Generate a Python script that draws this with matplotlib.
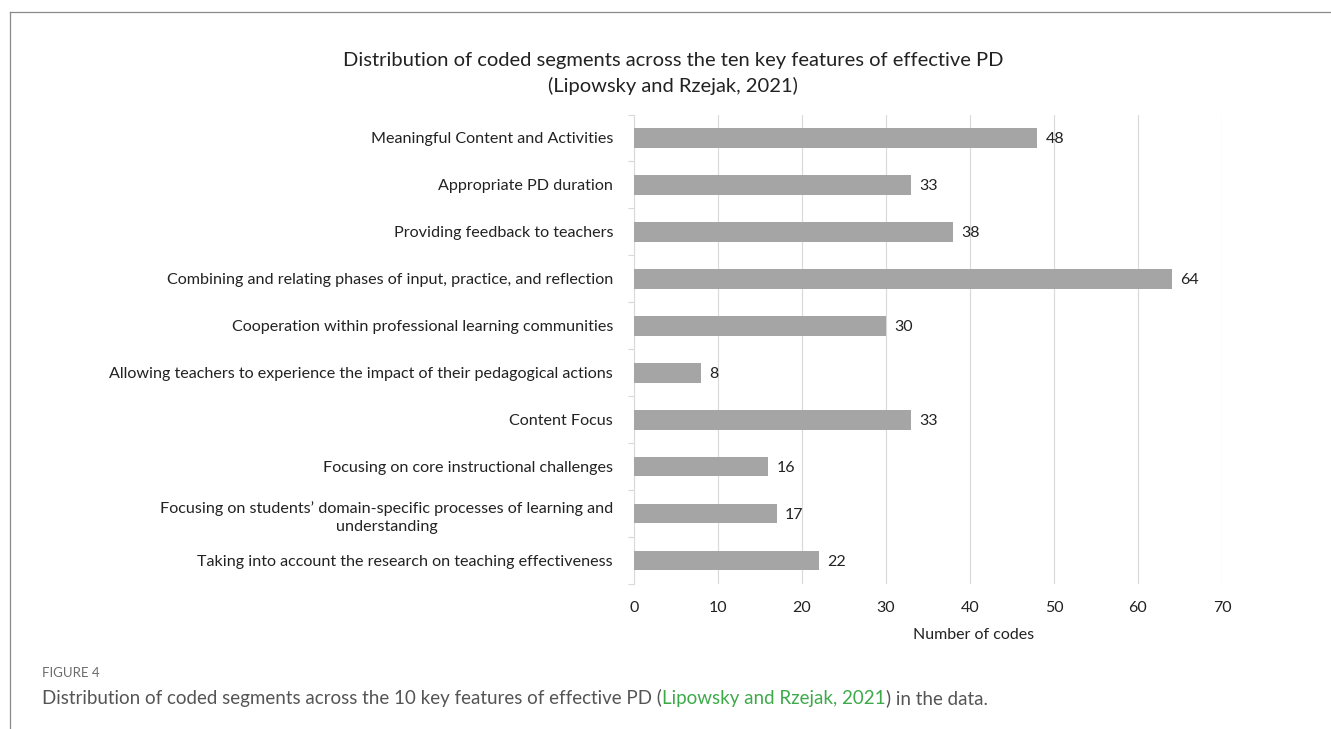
import numpy as np
import matplotlib
matplotlib.use('Agg')
import matplotlib.pyplot as plt
from matplotlib.lines import Line2D
from matplotlib.ticker import FixedLocator

# data (top to bottom as in the chart)
features = [
    'Meaningful Content and Activities',
    'Appropriate PD duration',
    'Providing feedback to teachers',
    'Combining and relating phases of input, practice, and reflection',
    'Cooperation within professional learning communities',
    'Allowing teachers to experience the impact of their pedagogical actions',
    'Content Focus',
    'Focusing on core instructional challenges',
    'Focusing on students\u2019 domain-specific processes of learning and\nunderstanding',
    'Taking into account the research on teaching effectiveness',
]
codes = [48, 33, 38, 64, 30, 8, 33, 16, 17, 22]
xticks = [0, 10, 20, 30, 40, 50, 60, 70]

plt.rcParams['font.family'] = ['Lato', 'DejaVu Sans']
txt = '#222222'

fig = plt.figure(figsize=(13.31, 7.29), dpi=100)
ax = fig.add_axes([0.4763, 0.1989, 0.4418, 0.644])

y = np.arange(len(features))
ax.barh(y, codes, height=0.42, color='#a5a5a5', zorder=3)
for yi, v in zip(y, codes):
    ax.annotate(str(v), (v, yi), xytext=(6, -1), textcoords='offset points',
                va='center', ha='left', fontsize=11.5, color=txt)

ax.set_xlim(0, 70)
ax.set_ylim(len(features) - 0.5, -0.5)
ax.set_xticks(xticks)
ax.set_yticks(y)
ax.set_yticklabels(features)
for lab in ax.get_yticklabels():
    lab.set_multialignment('center')
    lab.set_linespacing(1.45)
ax.yaxis.set_minor_locator(FixedLocator(np.arange(-0.5, len(features), 1)))
ax.tick_params(axis='y', which='major', length=0, pad=15, labelsize=11.6, labelcolor=txt)
ax.tick_params(axis='y', which='minor', length=4, color='#d9d9d9', width=0.8)
ax.tick_params(axis='x', length=0, pad=12, labelsize=11.5, labelcolor=txt)

ax.grid(axis='x', color='#d9d9d9', linewidth=0.8, zorder=0)
for s in ['top', 'right', 'bottom']:
    ax.spines[s].set_visible(False)
ax.spines['left'].set_color('#d9d9d9')
ax.spines['left'].set_linewidth(0.8)

ax.text(0.578, -0.1086, 'Number of codes', transform=ax.transAxes,
        ha='center', va='center', fontsize=11.5, color=txt)

fig.text(0.5056, 0.899,
         'Distribution of coded segments across the ten key features of effective PD\n(Lipowsky and Rzejak, 2021)',
         ha='center', va='center', fontsize=14.5, color=txt, linespacing=1.5)

# frame lines
fig.add_artist(Line2D([0.0075, 1.0], [0.9835, 0.9835], color='#8a8a8a', lw=0.9))
fig.add_artist(Line2D([0.0075, 0.0075], [0.0, 0.9835], color='#8a8a8a', lw=0.9))

# caption
fig.text(0.0316, 0.0768, 'FIGURE 4', ha='left', va='center', fontsize=9.5,
         color='#6b6b6b')
t1 = fig.text(0.0316, 0.0425,
              'Distribution of coded segments across the 10 key features of effective PD (',
              ha='left', va='center', fontsize=13.5, color='#555555')
t2 = fig.text(0, 0, 'Lipowsky and Rzejak, 2021', fontsize=13.5, color='#3daa4a')
t3 = fig.text(0, 0, ') in the data.', fontsize=13.5, color='#555555')
fig.canvas.draw()
r = fig.canvas.get_renderer()
bb = t1.get_window_extent(r)
W, H = fig.bbox.width, fig.bbox.height
t2.set_position((bb.x1 / W, bb.y0 / H))
t2.set_va('bottom')
fig.canvas.draw()
bb2 = t2.get_window_extent(r)
t3.set_position((bb2.x1 / W, bb.y0 / H))
t3.set_va('bottom')

fig.savefig('out.png', dpi=100)
